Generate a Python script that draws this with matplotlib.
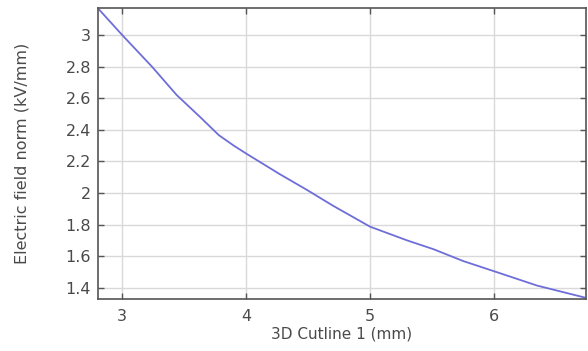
import matplotlib
matplotlib.use("Agg")
from matplotlib import pyplot as plt
from matplotlib.ticker import FuncFormatter

# arc length along the cutline (mm) and field norm (kV/mm)
cutline_mm = [2.815, 3.0, 3.12, 3.24, 3.44, 3.63, 3.78, 3.9, 4.0, 4.27, 4.49,
              4.70, 5.0, 5.30, 5.51, 5.75, 6.02, 6.345, 6.726]
field_kv_mm = [3.16, 3.0, 2.90, 2.80, 2.62, 2.48, 2.366, 2.30, 2.25, 2.12,
               2.02, 1.92, 1.787, 1.70, 1.645, 1.57, 1.50, 1.415, 1.34]

x_ticks = [3, 4, 5, 6]
y_ticks = [1.4, 1.6, 1.8, 2.0, 2.2, 2.4, 2.6, 2.8, 3.0]

txt = '#4a4a4a'
plt.rcParams['font.family'] = ['DejaVu Sans']

fig = plt.figure(figsize=(5.88, 3.51), dpi=100)
ax = fig.add_axes([98 / 588, 52 / 351, 488 / 588, 291 / 351])

ax.plot(cutline_mm, field_kv_mm, color='#6e6ed8', lw=1.3)

ax.set_xlim(2.806, 6.74)
ax.set_ylim(1.33, 3.17)
ax.set_xticks(x_ticks)
ax.set_yticks(y_ticks)
ax.yaxis.set_major_formatter(FuncFormatter(lambda v, p: '%g' % v))
ax.grid(True, color='#d9d9d9', lw=1)
ax.set_axisbelow(True)

ax.tick_params(direction='in', top=True, right=True, length=4, width=1,
               color='#555555', labelcolor=txt, labelsize=11.5)
ax.tick_params(axis='x', pad=7)
ax.tick_params(axis='y', pad=5)
for s in ax.spines.values():
    s.set_color('#555555')
    s.set_linewidth(1.2)

ax.set_xlabel('3D Cutline 1 (mm)', color=txt, fontsize=11, labelpad=2)
ax.set_ylabel('Electric field norm (kV/mm)', color=txt, fontsize=11.5, labelpad=26)

fig.savefig('out.png', dpi=100)
